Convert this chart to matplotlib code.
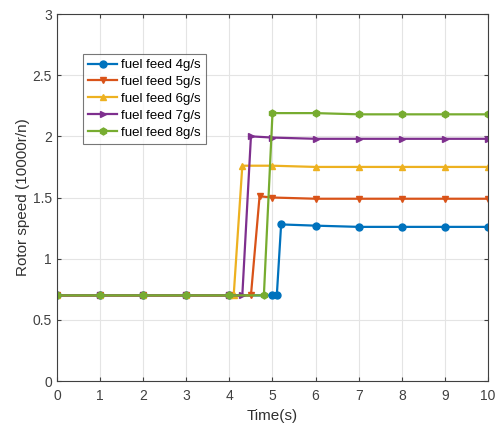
import matplotlib
matplotlib.use("Agg")
import matplotlib.pyplot as plt
from matplotlib.ticker import FuncFormatter

plt.rcParams['font.family'] = ['Liberation Sans', 'DejaVu Sans']

t_4 = [0, 1, 2, 3, 4, 5.0, 5.1, 5.2, 6, 7, 8, 9, 10]
v_4 = [0.7, 0.7, 0.7, 0.7, 0.7, 0.7, 0.7, 1.28, 1.27, 1.26, 1.26, 1.26, 1.26]
t_5 = [0, 1, 2, 3, 4, 4.5, 4.7, 5, 6, 7, 8, 9, 10]
v_5 = [0.7, 0.7, 0.7, 0.7, 0.7, 0.7, 1.51, 1.50, 1.49, 1.49, 1.49, 1.49, 1.49]
t_6 = [0, 1, 2, 3, 4, 4.1, 4.3, 5, 6, 7, 8, 9, 10]
v_6 = [0.7, 0.7, 0.7, 0.7, 0.7, 0.7, 1.76, 1.76, 1.75, 1.75, 1.75, 1.75, 1.75]
t_7 = [0, 1, 2, 3, 4, 4.3, 4.5, 5, 6, 7, 8, 9, 10]
v_7 = [0.7, 0.7, 0.7, 0.7, 0.7, 0.7, 2.0, 1.99, 1.98, 1.98, 1.98, 1.98, 1.98]
t_8 = [0, 1, 2, 3, 4, 4.8, 5.0, 6, 7, 8, 9, 10]
v_8 = [0.7, 0.7, 0.7, 0.7, 0.7, 0.7, 2.19, 2.19, 2.18, 2.18, 2.18, 2.18]

labels = ['fuel feed 4g/s', 'fuel feed 5g/s', 'fuel feed 6g/s', 'fuel feed 7g/s', 'fuel feed 8g/s']
x_ticks = list(range(0, 11))
y_ticks = [0, 0.5, 1, 1.5, 2, 2.5, 3]

colors = ['#0072BD', '#D95319', '#EDB120', '#7E2F8E', '#77AC30']
markers = ['o', 'v', '^', '>', 'h']

fig = plt.figure(figsize=(4.95, 4.25), dpi=100)
ax = fig.add_axes([0.115, 0.1035, 0.871, 0.8635])

series = [(t_4, v_4), (t_5, v_5), (t_6, v_6), (t_7, v_7), (t_8, v_8)]
for (t, v), c, m, lab in zip(series, colors, markers, labels):
    ax.plot(t, v, color=c, marker=m, markersize=5, linewidth=1.6, label=lab)

ax.set_xlim(0, 10)
ax.set_ylim(0, 3)
ax.set_xticks(x_ticks)
ax.set_yticks(y_ticks)
ax.yaxis.set_major_formatter(FuncFormatter(lambda v, p: f'{v:g}'))
ax.grid(True, color='#e4e4e4', linewidth=0.8)
ax.set_axisbelow(True)
ax.tick_params(direction='in', top=True, right=True, labelsize=10, colors='#404040', length=3)
ax.tick_params(axis='x', pad=6)
for s in ax.spines.values():
    s.set_color('#404040')
    s.set_linewidth(0.8)
ax.set_xlabel('Time(s)', fontsize=11, color='#303030', labelpad=4)
ax.set_ylabel('Rotor speed (10000r/n)', fontsize=11, color='#303030', labelpad=2)

leg = ax.legend(loc='upper left', bbox_to_anchor=(0.045, 0.91), fontsize=9.5,
                frameon=True, fancybox=False, edgecolor='#555555',
                handlelength=2.2, handletextpad=0.3, borderpad=0.4, labelspacing=0.35)
leg.get_frame().set_linewidth(0.8)

fig.savefig('out.png', dpi=100)
